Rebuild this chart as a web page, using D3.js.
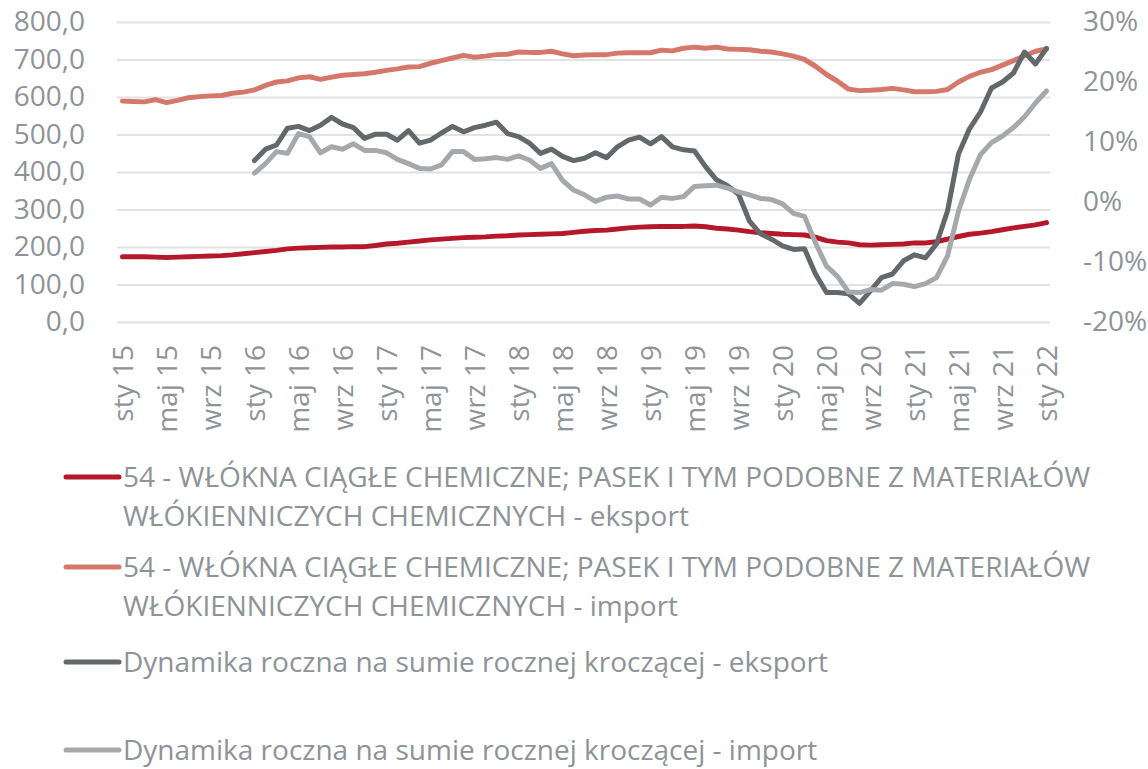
<!DOCTYPE html>
<html>
<head>
<meta charset="utf-8">
<script src="https://cdn.jsdelivr.net/npm/d3@7"></script>
<style>
  html, body { margin: 0; background: #ffffff; }
  svg { display: block; }
  text { font-family: "Open Sans", "Noto Sans", sans-serif; fill: #8e9398; }
</style>
</head>
<body>
<svg id="chart" width="1148" height="769"></svg>
<script>
// Monthly categories, Jan 2015 – Jan 2022
const categories = [
  "sty 15","lut 15","mar 15","kwi 15","maj 15","cze 15","lip 15","sie 15","wrz 15","paź 15","lis 15","gru 15",
  "sty 16","lut 16","mar 16","kwi 16","maj 16","cze 16","lip 16","sie 16","wrz 16","paź 16","lis 16","gru 16",
  "sty 17","lut 17","mar 17","kwi 17","maj 17","cze 17","lip 17","sie 17","wrz 17","paź 17","lis 17","gru 17",
  "sty 18","lut 18","mar 18","kwi 18","maj 18","cze 18","lip 18","sie 18","wrz 18","paź 18","lis 18","gru 18",
  "sty 19","lut 19","mar 19","kwi 19","maj 19","cze 19","lip 19","sie 19","wrz 19","paź 19","lis 19","gru 19",
  "sty 20","lut 20","mar 20","kwi 20","maj 20","cze 20","lip 20","sie 20","wrz 20","paź 20","lis 20","gru 20",
  "sty 21","lut 21","mar 21","kwi 21","maj 21","cze 21","lip 21","sie 21","wrz 21","paź 21","lis 21","gru 21",
  "sty 22"
];

// Category labels shown on the axis (every fourth month)
const tickLabels = [
  "sty 15","maj 15","wrz 15","sty 16","maj 16","wrz 16","sty 17","maj 17","wrz 17","sty 18","maj 18",
  "wrz 18","sty 19","maj 19","wrz 19","sty 20","maj 20","wrz 20","sty 21","maj 21","wrz 21","sty 22"
];

// Left axis ticks (values) and right axis ticks (percent)
const leftTicks = [0, 100, 200, 300, 400, 500, 600, 700, 800];
const rightTicks = [-20, -10, 0, 10, 20, 30];

// Rolling 12-month totals (left axis)
const exportValues = [
  174,174,174,173,172,173,174,175,176,177,179,182,
  185,188,191,195,197,198,199,200,200,201,201,204,
  208,210,213,216,219,221,223,225,226,227,229,230,
  232,233,234,235,236,239,242,244,245,248,251,253,
  254,255,255,255,256,254,250,248,245,241,238,236,
  234,233,232,226,217,213,211,206,205,206,207,208,
  211,211,214,221,228,234,237,241,246,251,255,259,
  265
];
const importValues = [
  589,588,587,593,585,591,598,601,603,604,610,613,
  619,631,640,643,651,654,647,653,658,660,662,666,
  671,675,680,681,690,697,704,711,706,709,713,714,
  720,719,719,722,715,710,712,713,713,717,718,718,
  718,725,723,730,733,730,733,728,727,726,722,720,
  715,709,700,682,660,642,621,617,618,620,623,619,
  614,614,615,620,640,655,666,673,685,697,710,722,
  728
];

// Year-on-year dynamics of the rolling totals, % (right axis)
const exportDynamics = [
  null,null,null,null,null,null,null,null,null,null,null,null,
  6.9,8.8,9.5,12.3,12.6,11.9,12.8,14.1,13.0,12.4,10.6,11.3,
  11.3,10.3,11.9,9.8,10.3,11.5,12.6,11.7,12.4,12.8,13.3,11.4,
  10.9,9.8,8.1,8.8,7.6,6.9,7.3,8.2,7.4,9.2,10.3,10.8,
  9.7,10.9,9.2,8.7,8.5,5.9,3.7,2.7,1.3,-3.2,-5.3,-6.2,
  -7.3,-7.9,-7.8,-12.0,-15.1,-15.1,-15.3,-16.9,-14.8,-12.6,-12.0,-9.8,
  -8.8,-9.3,-7.0,-1.5,8.0,12.2,15.0,19.0,20.0,21.5,25.0,23.0,
  25.6
];
const importDynamics = [
  null,null,null,null,null,null,null,null,null,null,null,null,
  4.8,6.4,8.4,8.1,11.4,10.9,8.2,9.2,8.8,9.7,8.6,8.6,
  8.2,7.1,6.4,5.6,5.5,6.2,8.4,8.4,7.1,7.2,7.4,7.1,
  7.7,7.0,5.6,6.4,3.6,2.0,1.2,0.1,0.8,1.0,0.5,0.5,
  -0.5,0.8,0.6,0.9,2.6,2.7,2.8,2.3,1.7,1.2,0.6,0.4,
  -0.3,-1.9,-2.4,-6.8,-10.7,-12.4,-15.0,-15.1,-14.6,-14.7,-13.6,-13.7,
  -14.1,-13.6,-12.6,-9.0,-1.5,3.8,7.9,9.9,11.0,12.4,14.2,16.5,
  18.5
];

// Legend entries, split over the lines they wrap to
const legendLabels = [
  ["54 - WŁÓKNA CIĄGŁE CHEMICZNE; PASEK I TYM PODOBNE Z MATERIAŁÓW", "WŁÓKIENNICZYCH CHEMICZNYCH - eksport"],
  ["54 - WŁÓKNA CIĄGŁE CHEMICZNE; PASEK I TYM PODOBNE Z MATERIAŁÓW", "WŁÓKIENNICZYCH CHEMICZNYCH - import"],
  ["Dynamika roczna na sumie rocznej kroczącej - eksport"],
  ["Dynamika roczna na sumie rocznej kroczącej - import"]
];

// ---- layout & styles ----
const W = 1148, H = 769;
const plot = { left: 117, right: 1052, top: 22, bottom: 322 };
const colors = ["#b5172b", "#d5786b", "#63686b", "#a6a9ac"];
const lineWidth = 5;
const legendY = [477, 567, 662, 750];
const legendLineGap = 39;

const svg = d3.select("#chart");
svg.append("rect").attr("width", W).attr("height", H).attr("fill", "#ffffff");

const x = d3.scalePoint().domain(categories).range([plot.left, plot.right]).padding(0.5);
const yL = d3.scaleLinear().domain([0, 800]).range([plot.bottom, plot.top]);
const yR = d3.scaleLinear().domain([-20, 30]).range([plot.bottom, plot.top]);

// gridlines
const grid = svg.append("g")
  .attr("transform", `translate(${plot.left},0)`)
  .call(d3.axisLeft(yL).tickValues(leftTicks).tickSize(-(plot.right - 2 - plot.left)).tickFormat(""));
grid.select(".domain").remove();
grid.selectAll("line").attr("stroke", "#e2e2e2").attr("stroke-width", 2);

// left axis labels
const fmtLeft = v => d3.format(".1f")(v).replace(".", ",");
const axL = svg.append("g")
  .attr("transform", `translate(${plot.left},0)`)
  .call(d3.axisLeft(yL).tickValues(leftTicks).tickSize(0).tickPadding(32).tickFormat(fmtLeft));
axL.select(".domain").remove();
axL.selectAll("text").style("font-size", "28px").attr("fill", "#8e9398").style("font-family", null);

// right axis labels
const axR = svg.append("g")
  .attr("transform", `translate(${plot.right},0)`)
  .call(d3.axisRight(yR).tickValues(rightTicks).tickSize(0).tickPadding(31).tickFormat(d => d + "%"));
axR.select(".domain").remove();
axR.selectAll("text").style("font-size", "28px").attr("fill", "#8e9398").style("font-family", null);

// category axis, labels rotated
const axX = svg.append("g")
  .attr("transform", `translate(0,${plot.bottom})`)
  .call(d3.axisBottom(x).tickValues(tickLabels).tickSize(0));
axX.select(".domain").remove();
axX.selectAll("text")
  .attr("transform", "rotate(-90)")
  .attr("x", -23).attr("y", 0).attr("dy", "0.36em")
  .style("text-anchor", "end")
  .style("font-size", "28px")
  .attr("fill", "#8e9398")
  .style("font-family", null);

// series
const lineL = d3.line()
  .defined(d => d.v != null)
  .x(d => x(d.c)).y(d => yL(d.v));
const lineR = d3.line()
  .defined(d => d.v != null)
  .x(d => x(d.c)).y(d => yR(d.v));

const toPts = arr => arr.map((v, i) => ({ c: categories[i], v }));

const series = [
  { data: toPts(exportValues), gen: lineL },
  { data: toPts(importValues), gen: lineL },
  { data: toPts(exportDynamics), gen: lineR },
  { data: toPts(importDynamics), gen: lineR }
];

svg.append("g").selectAll("path")
  .data(series)
  .join("path")
  .attr("d", s => s.gen(s.data))
  .attr("fill", "none")
  .attr("stroke", (s, i) => colors[i])
  .attr("stroke-width", lineWidth)
  .attr("stroke-linejoin", "round")
  .attr("stroke-linecap", "round");

// legend
const legend = svg.append("g");
legendLabels.forEach((lines, i) => {
  const g = legend.append("g");
  const y0 = legendY[i];
  g.append("line")
    .attr("x1", 66).attr("x2", 119)
    .attr("y1", y0).attr("y2", y0)
    .attr("stroke", colors[i]).attr("stroke-width", lineWidth).attr("stroke-linecap", "round");
  lines.forEach((t, j) => {
    g.append("text")
      .attr("x", 123).attr("y", y0 + j * legendLineGap).attr("dy", "0.36em")
      .style("font-size", "28px")
      .text(t);
  });
});
</script>
</body>
</html>
